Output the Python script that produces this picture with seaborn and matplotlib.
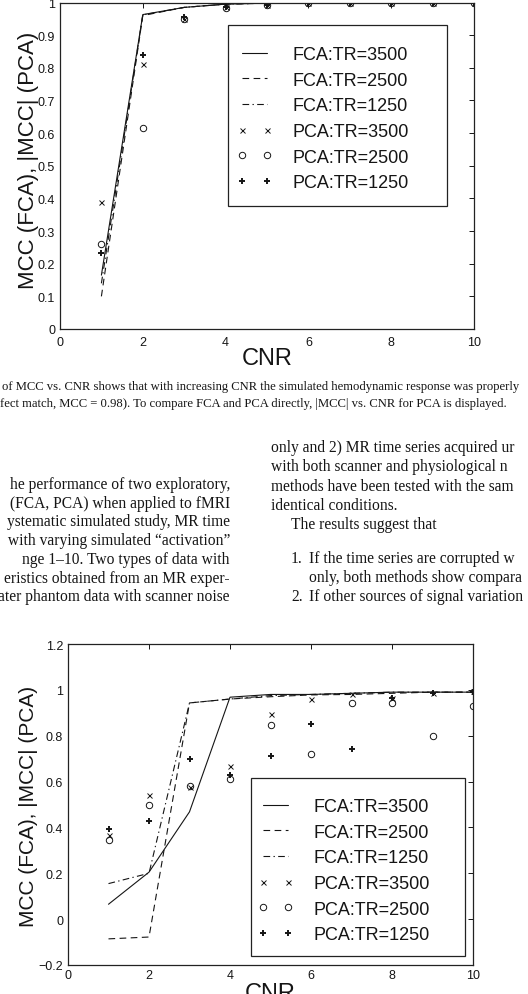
import numpy as np
import pandas as pd
import matplotlib
matplotlib.use("Agg")
import matplotlib.pyplot as plt
import seaborn as sns
from matplotlib.patches import Rectangle

# ---------------- data ----------------
cnr = [1, 2, 3, 4, 5, 6, 7, 8, 9, 10]

fca_labels = ["FCA:TR=3500", "FCA:TR=2500", "FCA:TR=1250"]
pca_labels = ["PCA:TR=3500", "PCA:TR=2500", "PCA:TR=1250"]

# upper panel
top_fca_3500 = [0.165, 0.963, 0.985, 0.995, 0.998, 0.999, 0.999, 0.999, 0.999, 0.999]
top_fca_2500 = [0.100, 0.960, 0.985, 0.995, 0.998, 0.999, 0.999, 0.999, 0.999, 0.999]
top_fca_1250 = [0.140, 0.962, 0.985, 0.995, 0.998, 0.999, 0.999, 0.999, 0.999, 0.999]
top_pca_3500 = [0.390, 0.812, 0.950, 0.985, 0.993, 0.998, 0.998, 0.998, 0.998, 0.998]
top_pca_2500 = [0.260, 0.616, 0.948, 0.983, 0.992, 0.998, 0.998, 0.998, 0.998, 0.998]
top_pca_1250 = [0.232, 0.840, 0.955, 0.985, 0.993, 0.998, 0.998, 0.998, 0.998, 0.998]

# lower panel
bot_fca_3500 = [0.065, 0.205, 0.468, 0.968, 0.980, 0.980, 0.985, 0.990, 0.990, 0.990]
bot_fca_2500 = [-0.086, -0.078, 0.943, 0.960, 0.970, 0.978, 0.980, 0.985, 0.990, 0.990]
bot_fca_1250 = [0.155, 0.200, 0.943, 0.960, 0.975, 0.980, 0.985, 0.990, 0.990, 0.990]
bot_pca_3500 = [0.366, 0.543, 0.575, 0.668, 0.894, 0.960, 0.980, 0.965, 0.985, 0.995]
bot_pca_2500 = [0.345, 0.500, 0.580, 0.613, 0.845, 0.720, 0.943, 0.943, 0.800, 0.930]
bot_pca_1250 = [0.393, 0.430, 0.700, 0.630, 0.710, 0.850, 0.740, 0.965, 0.986, 0.990]

top_yticks = [0, 0.1, 0.2, 0.3, 0.4, 0.5, 0.6, 0.7, 0.8, 0.9, 1]
top_yticklabels = ["0", "0.1", "0.2", "0.3", "0.4", "0.5", "0.6", "0.7", "0.8", "0.9", "1"]
bot_yticks = [-0.2, 0, 0.2, 0.4, 0.6, 0.8, 1, 1.2]
bot_yticklabels = ["\u22120.2", "0", "0.2", "0.4", "0.6", "0.8", "1", "1.2"]
xticks = [0, 2, 4, 6, 8, 10]
xticklabels = ["0", "2", "4", "6", "8", "10"]

ylabel_text = "MCC (FCA), |MCC| (PCA)"
xlabel_text = "CNR"

caption_lines = [
    "of MCC vs. CNR shows that with increasing CNR the simulated hemodynamic response was properly",
    "fect match, MCC = 0.98). To compare FCA and PCA directly, |MCC| vs. CNR for PCA is displayed.",
]
left_col = [
    "he performance of two exploratory,",
    "(FCA, PCA) when applied to fMRI",
    "ystematic simulated study, MR time",
    " with varying simulated \u201cactivation\u201d",
    "nge 1\u201310. Two types of data with",
    "eristics obtained from an MR exper-",
    "ater phantom data with scanner noise",
]
right_col = [
    (271, 448, "only and 2) MR time series acquired ur"),
    (271, 467, "with both scanner and physiological n"),
    (271, 487, "methods have been tested with the sam"),
    (271, 506, "identical conditions."),
    (291, 525, "The results suggest that"),
    (291, 559, "1."),
    (309, 559, "If the time series are corrupted w"),
    (309, 578, "only, both methods show compara"),
    (291, 597, "2."),
    (309, 597, "If other sources of signal variation"),
]

# ---------------- style ----------------
sns.set_style("white")
plt.rcParams["font.family"] = ["Liberation Sans", "DejaVu Sans"]
plt.rcParams["axes.unicode_minus"] = True

W, H = 528, 995
fig = plt.figure(figsize=(W / 100, H / 100), dpi=100)
fig.patch.set_facecolor("white")

INK = "#151515"


def rect(l, t, r, b):
    return [l / W, 1 - b / H, (r - l) / W, (b - t) / H]


line_styles = ["-", (0, (6, 4)), (0, (6, 3, 1.2, 3))]
marker_specs = [
    dict(marker="x", markersize=3.6, markeredgewidth=0.7, markerfacecolor="none"),
    dict(marker="o", markersize=4.6, markeredgewidth=0.7, markerfacecolor="none"),
    dict(marker="+", markersize=5.0, markeredgewidth=1.4, markerfacecolor="none"),
]


def panel(ax, fca, pca, yticks, yticklabels, ylim, legend_anchor, legend_box,
          ylab_xy, ylab_size, xlab_y, xtick_pad):
    for vals, ls, lab in zip(fca, line_styles, fca_labels):
        sns.lineplot(x=cnr, y=vals, ax=ax, color=INK, linewidth=0.8,
                     linestyle=ls, label=lab, estimator=None, sort=False)
    for vals, spec, lab in zip(pca, marker_specs, pca_labels):
        sns.lineplot(x=cnr, y=vals, ax=ax, color=INK, linestyle="none",
                     markeredgecolor=INK, label=lab, estimator=None,
                     sort=False, **spec)
    ax.set_xlim(0, 10)
    ax.set_ylim(*ylim)
    ax.set_xticks(xticks)
    ax.set_xticklabels(xticklabels)
    ax.set_yticks(yticks)
    ax.set_yticklabels(yticklabels)
    ax.tick_params(direction="in", length=3.6, width=0.7, top=True, right=True,
                   labelsize=9, colors=INK)
    ax.tick_params(axis="x", pad=xtick_pad)
    ax.tick_params(axis="y", pad=3.5)
    for s in ax.spines.values():
        s.set_color("#222222")
        s.set_linewidth(0.9)
    ax.set_facecolor("white")

    ax.set_ylabel(ylabel_text, fontsize=ylab_size, color=INK, va="center")
    ax.yaxis.set_label_coords(*ylab_xy)
    ax.set_xlabel(xlabel_text, fontsize=17, color=INK, va="center")
    ax.xaxis.set_label_coords(0.5, xlab_y)

    handles, labels = ax.get_legend_handles_labels()
    ax.legend(handles, labels, numpoints=2, frameon=False, loc="upper left",
              bbox_to_anchor=(legend_anchor[0] / W, 1 - legend_anchor[1] / H),
              bbox_transform=fig.transFigure, borderpad=0, borderaxespad=0,
              handlelength=1.95, handletextpad=1.1, labelspacing=0.48,
              prop={"size": 13, "family": ["Liberation Sans", "DejaVu Sans"]},
              labelcolor=INK)
    x0, y0, x1, y1 = legend_box
    ax.add_patch(Rectangle((x0 / W, 1 - y1 / H), (x1 - x0) / W, (y1 - y0) / H,
                           transform=fig.transFigure, facecolor="white",
                           edgecolor="#222222", linewidth=0.9, zorder=4,
                           clip_on=False))


# upper axes: x 60..474 px, y 3.5..330 px
ax1 = fig.add_axes(rect(60, 3.5, 474, 330))
panel(ax1, [top_fca_3500, top_fca_2500, top_fca_1250],
      [top_pca_3500, top_pca_2500, top_pca_1250],
      top_yticks, top_yticklabels, (0, 1),
      legend_anchor=(237, 47), legend_box=(228, 26, 447, 207),
      ylab_xy=(-0.076, 0.52), ylab_size=16, xlab_y=-0.089, xtick_pad=5)

# lower axes: x 68..473 px, y 645..966 px
ax2 = fig.add_axes(rect(68, 645, 473, 966))
panel(ax2, [bot_fca_3500, bot_fca_2500, bot_fca_1250],
      [bot_pca_3500, bot_pca_2500, bot_pca_1250],
      bot_yticks, bot_yticklabels, (-0.2, 1.2),
      legend_anchor=(258, 799), legend_box=(251, 779, 465, 957),
      ylab_xy=(-0.0975, 0.498), ylab_size=15, xlab_y=-0.086, xtick_pad=3)

# ---------------- surrounding page text ----------------
serif = ["Liberation Serif", "DejaVu Serif"]
fig.text(2 / W, 1 - 387 / H, caption_lines[0], family=serif, fontsize=9.1,
         ha="left", va="center", color=INK)
fig.text(0 / W, 1 - 404 / H, caption_lines[1], family=serif, fontsize=9.1,
         ha="left", va="center", color=INK)

left_ys = [485, 503.5, 522, 541, 560, 579, 597]
for y, s in zip(left_ys, left_col):
    fig.text(230 / W, 1 - y / H, s, family=serif, fontsize=11.2,
             ha="right", va="center", color=INK)
for x, y, s in right_col:
    fig.text(x / W, 1 - y / H, s, family=serif, fontsize=11.2,
             ha="left", va="center", color=INK)

fig.savefig("out.png", dpi=100, facecolor="white")
